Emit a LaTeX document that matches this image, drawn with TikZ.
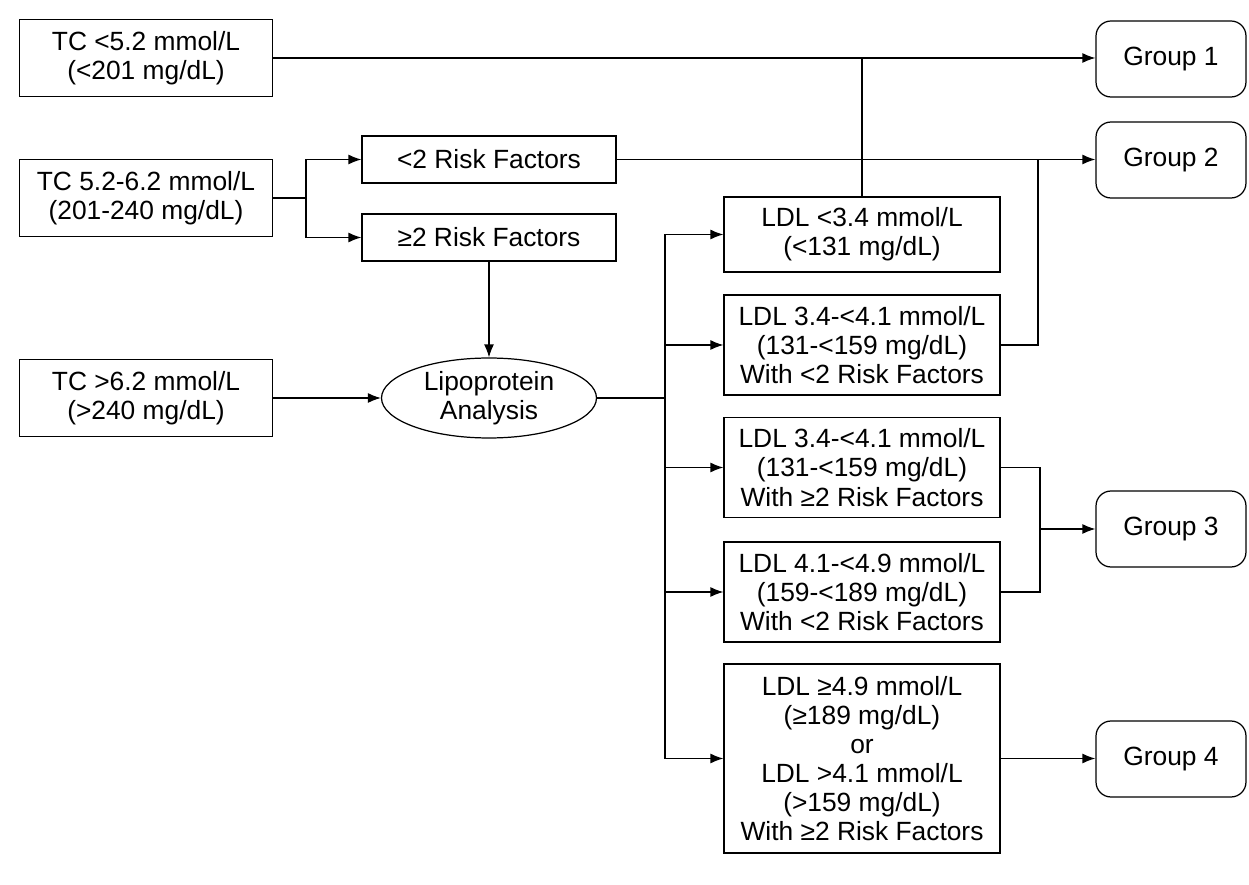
\documentclass[tikz,border=0pt]{standalone}
\usepackage{fontspec}
\setmainfont{Liberation Sans}
\usetikzlibrary{arrows.meta,shapes.geometric}

\begin{document}
\begin{tikzpicture}[
    x=0.02cm, y=-0.02cm,
    line width=0.7pt,
    txt/.style={font=\fontsize{15}{16.6}\selectfont, align=center, inner sep=0pt},
    tcbox/.style={txt, draw, minimum width=5.06cm, minimum height=1.54cm},
    rfbox/.style={txt, draw, minimum width=5.08cm, minimum height=0.94cm},
    ldlbox/.style={txt, draw, minimum width=5.52cm, minimum height=2cm},
    grp/.style={txt, draw, rounded corners=0.3cm, minimum width=3cm, minimum height=1.52cm},
    oval/.style={txt, draw, ellipse, minimum width=4.3cm, minimum height=1.6cm},
    arr/.style={-{Latex[length=2.6mm,width=2mm]}}
]
\useasboundingbox (0,0) rectangle (1249,885);

% Total cholesterol
\node[tcbox] (tc1) at (146,58) {TC <5.2 mmol/L\\(<201 mg/dL)};
\node[tcbox] (tc2) at (146,198) {TC 5.2-6.2 mmol/L\\(201-240 mg/dL)};
\node[tcbox] (tc3) at (146,398) {TC >6.2 mmol/L\\(>240 mg/dL)};

% Risk factors
\node[rfbox] (rf1) at (489,159.5) {<2 Risk Factors};
\node[rfbox] (rf2) at (489,237.5) {≥2 Risk Factors};
\node[oval] (lipo) at (489,398) {Lipoprotein\\Analysis};

% LDL classes
\node[ldlbox, minimum height=1.5cm] (ldl1) at (862,234.5) {LDL <3.4 mmol/L\\(<131 mg/dL)};
\node[ldlbox] (ldl2) at (862,345) {LDL 3.4-<4.1 mmol/L\\(131-<159 mg/dL)\\With <2 Risk Factors};
\node[ldlbox] (ldl3) at (862,467.5) {LDL 3.4-<4.1 mmol/L\\(131-<159 mg/dL)\\With ≥2 Risk Factors};
\node[ldlbox] (ldl4) at (862,592) {LDL 4.1-<4.9 mmol/L\\(159-<189 mg/dL)\\With <2 Risk Factors};
\node[ldlbox, minimum height=3.78cm] (ldl5) at (862,758.5) {LDL ≥4.9 mmol/L\\(≥189 mg/dL)\\or\\LDL >4.1 mmol/L\\(>159 mg/dL)\\With ≥2 Risk Factors};

% Groups
\node[grp] (g1) at (1171,59) {Group 1};
\node[grp] (g2) at (1171,160) {Group 2};
\node[grp] (g3) at (1171,529) {Group 3};
\node[grp] (g4) at (1171,759) {Group 4};

% Junctions
\coordinate (split) at (306,198);
\coordinate (fork) at (665,398);
\coordinate (m2) at (1038,159.5);
\coordinate (m3) at (1040,529);

% Connectors
\draw[arr] (tc1.east) -- (tc1.east -| g1.west);
\draw (ldl1.north) -- (ldl1.north |- tc1.east);
\draw (tc2.east) -- (split);
\draw[arr] (split) |- (rf1.west);
\draw[arr] (split) |- (rf2.west);
\draw[arr] (rf1.east) -- (rf1.east -| g2.west);
\draw (ldl2.east) -| (m2);
\draw[arr] (rf2.south) -- (lipo.north);
\draw[arr] (tc3.east) -- (lipo.west);
\draw (lipo.east) -- (fork);
\foreach \n in {ldl1,ldl2,ldl3,ldl4,ldl5}
    \draw[arr] (fork) |- (\n.west);
\draw (ldl3.east) -| (m3);
\draw (ldl4.east) -| (m3);
\draw[arr] (m3) -- (g3.west);
\draw[arr] (ldl5.east) -- (ldl5.east -| g4.west);
\end{tikzpicture}
\end{document}
